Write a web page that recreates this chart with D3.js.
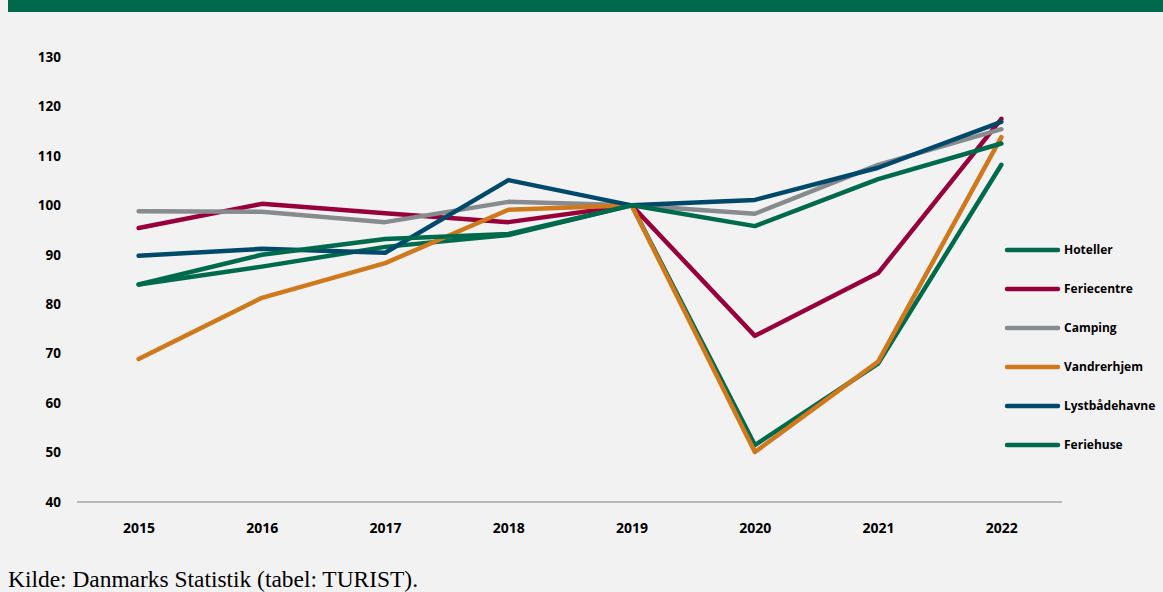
<!DOCTYPE html>
<html>
<head>
<meta charset="utf-8">
<script src="https://cdn.jsdelivr.net/npm/d3@7"></script>
<style>
  html, body { margin: 0; padding: 0; background: #f2f2f2; }
  svg { display: block; }
</style>
</head>
<body>
<svg id="chart"></svg>
<script>
// Index values, 2019 = 100
const years = ['2015', '2016', '2017', '2018', '2019', '2020', '2021', '2022'];
const yTicks = [40, 50, 60, 70, 80, 90, 100, 110, 120, 130];

const seriesNames = ['Hoteller', 'Feriecentre', 'Camping', 'Vandrerhjem', 'Lystbådehavne', 'Feriehuse'];
const seriesColors = ['#006a4d', '#98003b', '#878b8e', '#cf781c', '#00496a', '#006a4d'];

const hoteller      = [84.0, 87.6, 91.6, 94.0, 100, 51.5, 68.0, 108.2];
const feriecentre   = [95.4, 100.3, 98.4, 96.6, 100, 73.6, 86.3, 117.5];
const camping       = [98.8, 98.7, 96.6, 100.7, 100, 98.3, 108.2, 115.4];
const vandrerhjem   = [68.9, 81.3, 88.3, 99.1, 100, 50.1, 68.4, 113.8];
const lystbaadehavne = [89.8, 91.2, 90.4, 105.1, 100, 101.1, 107.6, 116.9];
const feriehuse     = [84.0, 90.0, 93.2, 94.2, 100, 95.8, 105.3, 112.5];

const seriesValues = [hoteller, feriecentre, camping, vandrerhjem, lystbaadehavne, feriehuse];

const width = 1163, height = 592;
const svg = d3.select('#chart').attr('width', width).attr('height', height);

svg.append('rect').attr('width', width).attr('height', height).attr('fill', '#f2f2f2');

// Green title banner (cut off at the top)
svg.append('rect')
    .attr('x', 8).attr('y', 0)
    .attr('width', width - 8).attr('height', 12)
    .attr('fill', '#00694b');

const x = d3.scalePoint()
    .domain(years)
    .range([77, 1063])
    .padding(0.5);

const y = d3.scaleLinear()
    .domain([40, 130])
    .range([502, 57]);

// Baseline
svg.append('line')
    .attr('x1', 77).attr('x2', 1062)
    .attr('y1', y(40)).attr('y2', y(40))
    .attr('stroke', '#a6a6a6')
    .attr('stroke-width', 1.5);

// Y tick labels
const yAxis = d3.axisLeft(y).tickValues(yTicks).tickSize(0).tickPadding(0);
const yG = svg.append('g')
    .attr('transform', 'translate(61,0)')
    .call(yAxis);
yG.select('.domain').remove();
yG.selectAll('text')
    .attr('font-family', '"Open Sans", sans-serif')
    .attr('font-weight', 'bold')
    .attr('font-size', 13.5)
    .attr('fill', '#000');

// X tick labels
const xAxis = d3.axisBottom(x).tickSize(0).tickPadding(0);
const xG = svg.append('g')
    .attr('transform', 'translate(0,523)')
    .call(xAxis);
xG.select('.domain').remove();
xG.selectAll('text')
    .attr('font-family', '"Open Sans", sans-serif')
    .attr('font-weight', 'bold')
    .attr('font-size', 14)
    .attr('fill', '#000');

// Lines
const line = d3.line()
    .x((d, i) => x(years[i]))
    .y(d => y(d));

svg.append('g').selectAll('path')
    .data(seriesValues)
    .join('path')
    .attr('d', line)
    .attr('fill', 'none')
    .attr('stroke', (d, i) => seriesColors[i])
    .attr('stroke-width', 4.5)
    .attr('stroke-linejoin', 'round')
    .attr('stroke-linecap', 'round');

// Legend
const legend = svg.append('g').selectAll('g')
    .data(seriesNames)
    .join('g')
    .attr('transform', (d, i) => `translate(1007,${250 + i * 39})`);

legend.append('line')
    .attr('x1', 0).attr('x2', 51)
    .attr('stroke', (d, i) => seriesColors[i])
    .attr('stroke-width', 4.5)
    .attr('stroke-linecap', 'round');

legend.append('text')
    .attr('x', 57)
    .attr('dy', '0.35em')
    .attr('font-family', '"Open Sans", sans-serif')
    .attr('font-weight', 'bold')
    .attr('font-size', 12)
    .attr('fill', '#000')
    .text(d => d);

// Source
svg.append('text')
    .attr('x', 8).attr('y', 587)
    .attr('font-family', '"Liberation Serif", serif')
    .attr('font-size', 23)
    .attr('textLength', 410)
    .attr('lengthAdjust', 'spacingAndGlyphs')
    .attr('fill', '#000')
    .text('Kilde: Danmarks Statistik (tabel: TURIST).');
</script>
</body>
</html>
